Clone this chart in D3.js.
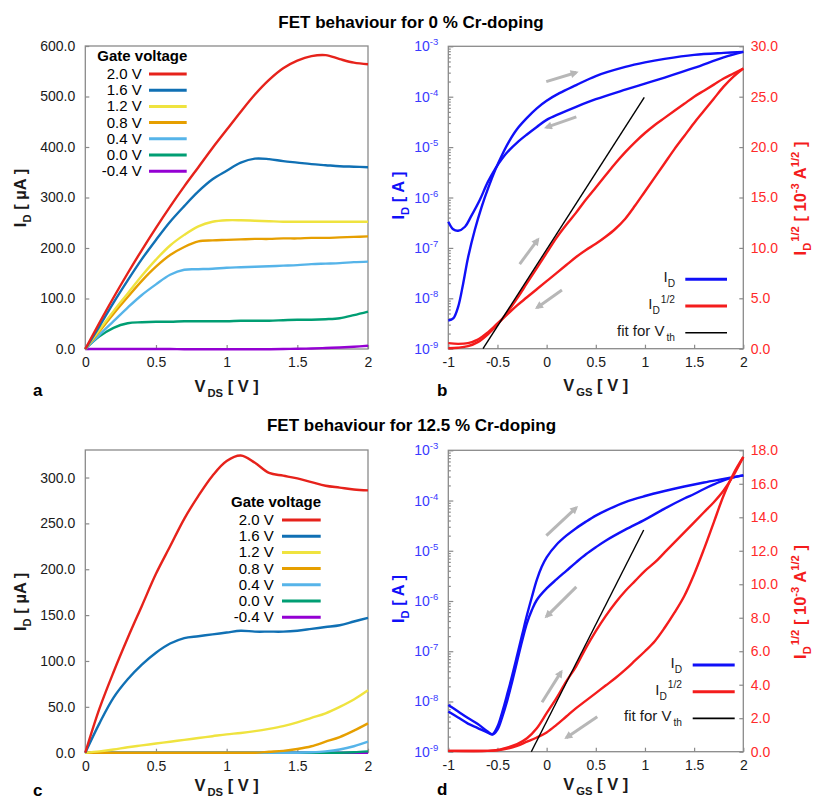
<!DOCTYPE html>
<html>
<head>
<meta charset="utf-8">
<script src="https://cdn.jsdelivr.net/npm/d3@7"></script>
<style>
  body { margin: 0; background: #fff; }
  svg { font-family: "Liberation Sans", Arial, Helvetica, sans-serif; }
</style>
</head>
<body>
<svg id="chart" width="814" height="800"></svg>
<script>
// ---------- data ----------
const vds = [0, 0.1, 0.2, 0.3, 0.4, 0.5, 0.6, 0.7, 0.8, 0.9, 1.0, 1.1, 1.2, 1.3, 1.4, 1.5, 1.6, 1.7, 1.8, 1.9, 2.0];
const gateVoltages = ["2.0 V", "1.6 V", "1.2 V", "0.8 V", "0.4 V", "0.0 V", "-0.4 V"];

// output curves, I_D in µA (rows follow gateVoltages)
const idUndoped = [
  [0, 52, 102, 150, 196, 240, 282, 322, 360, 398, 434, 470, 504, 533, 556, 571, 580, 582, 574, 567, 564],
  [0, 45, 92, 136, 178, 216, 252, 283, 312, 336, 353, 369, 377, 376, 372, 369, 366, 364, 362, 361, 360],
  [0, 38, 75, 110, 145, 177, 205, 226, 243, 252, 255, 255, 254, 253, 252, 252, 252, 252, 252, 252, 252],
  [0, 35, 70, 103, 135, 163, 186, 202, 213, 215, 216, 217, 218, 218, 219, 219, 220, 220, 221, 222, 223],
  [0, 28, 55, 82, 107, 128, 147, 157, 158, 159, 161, 162, 163, 164, 165, 166, 168, 169, 170, 172, 173],
  [0, 25, 42, 51, 53, 54, 54, 55, 55, 55, 55, 56, 56, 56, 57, 58, 58, 59, 61, 67, 74],
  [0, 0, 0, 0, 0, 0, 0, -0.5, -0.5, -0.5, -0.5, -0.5, -0.5, -0.5, 0, 0.5, 1, 2, 3, 4.5, 6.5]
];
const idDoped = [
  [0, 48, 88, 125, 160, 195, 225, 255, 280, 302, 318, 324, 316, 305, 302, 299, 295, 291, 289, 287, 286],
  [0, 32, 60, 80, 96, 109, 119, 125, 127, 129, 131, 133, 132, 132, 132, 133, 135, 137, 139, 143, 147],
  [0, 1.5, 3.5, 6, 8, 10, 12, 14, 16, 18, 20, 21.5, 23.5, 26, 29, 33, 38, 43, 50, 58, 68],
  [0, 0, 0, 0, 0, 0, 0, 0, 0, 0, 0, 0, 0, 1, 2, 4, 7, 12, 17, 24, 32],
  [0, 0, 0, 0, 0, 0, 0, 0, 0, 0, 0, 0, 0, 0, 0, 0, 0.5, 1.5, 3.5, 7, 12],
  [0, 0, 0, 0, 0, 0, 0, 0, 0, 0, 0, 0, 0, 0, 0, 0, 0, 0, 0, 0.5, 1.5],
  [0, 0, 0, 0, 0, 0, 0, 0, 0, 0, 0, 0, 0, 0, 0, 0, 0, 0, 0, 0, 0]
];

// transfer curves: [V_GS, log10(I_D / A)] and [V_GS, I_D^1/2 in 10^-3 A^1/2]
const logIdFwdUndoped = [[-1,-8.44],[-0.95,-8.40],[-0.9,-8.17],[-0.85,-7.72],[-0.8,-7.2],[-0.73,-6.64],[-0.66,-6.18],[-0.59,-5.79],[-0.52,-5.44],[-0.45,-5.14],[-0.38,-4.88],[-0.3,-4.64],[-0.2,-4.42],[-0.1,-4.23],[0,-4.08],[0.13,-3.93],[0.3,-3.77],[0.5,-3.59],[0.8,-3.41],[1.0,-3.32],[1.2,-3.25],[1.5,-3.17],[1.8,-3.13],[2.0,-3.11]];
const logIdRevUndoped = [[-1,-6.48],[-0.95,-6.63],[-0.9,-6.66],[-0.83,-6.58],[-0.77,-6.38],[-0.68,-6.05],[-0.6,-5.7],[-0.52,-5.42],[-0.45,-5.22],[-0.38,-5.06],[-0.3,-4.91],[-0.2,-4.75],[-0.1,-4.6],[0,-4.46],[0.13,-4.34],[0.3,-4.2],[0.5,-4.05],[0.8,-3.86],[1.0,-3.74],[1.2,-3.62],[1.5,-3.43],[1.8,-3.22],[2.0,-3.11]];
const sqrtIdFwdUndoped = [[-1,0.05],[-0.9,0.1],[-0.8,0.25],[-0.7,0.65],[-0.6,1.4],[-0.5,2.4],[-0.4,3.6],[-0.3,5.0],[-0.2,6.5],[-0.1,8.0],[0,9.5],[0.1,11.0],[0.2,12.3],[0.3,13.5],[0.4,14.8],[0.5,16.0],[0.6,17.2],[0.7,18.4],[0.8,19.5],[0.9,20.5],[1.0,21.4],[1.1,22.2],[1.2,22.9],[1.3,23.6],[1.4,24.3],[1.5,25.0],[1.6,25.6],[1.7,26.2],[1.8,26.8],[1.9,27.3],[2.0,27.8]];
const sqrtIdRevUndoped = [[-1,0.55],[-0.9,0.48],[-0.8,0.55],[-0.7,0.9],[-0.6,1.6],[-0.5,2.5],[-0.4,3.4],[-0.3,4.3],[-0.2,5.1],[-0.1,5.9],[0,6.7],[0.1,7.5],[0.2,8.3],[0.3,9.1],[0.4,9.8],[0.5,10.4],[0.6,11.1],[0.7,11.9],[0.8,12.9],[0.9,14.2],[1.0,15.6],[1.1,17.0],[1.2,18.4],[1.3,19.8],[1.4,21.1],[1.5,22.4],[1.6,23.6],[1.7,24.8],[1.8,26.0],[1.9,27.0],[2.0,27.8]];
const fitUndoped = [[-0.647, 0], [0.993, 24.94]];

const logIdFwdDoped = [[-1,-8.2],[-0.9,-8.32],[-0.8,-8.44],[-0.7,-8.53],[-0.6,-8.62],[-0.55,-8.65],[-0.5,-8.5],[-0.45,-8.2],[-0.4,-7.85],[-0.35,-7.48],[-0.3,-7.08],[-0.25,-6.68],[-0.2,-6.28],[-0.15,-5.92],[-0.1,-5.58],[-0.05,-5.32],[0,-5.13],[0.1,-4.88],[0.2,-4.7],[0.3,-4.55],[0.4,-4.42],[0.5,-4.3],[0.6,-4.2],[0.8,-4.03],[1.0,-3.91],[1.2,-3.81],[1.4,-3.72],[1.6,-3.64],[1.8,-3.57],[2.0,-3.5]];
const logIdRevDoped = [[-1,-8.07],[-0.9,-8.2],[-0.8,-8.33],[-0.7,-8.45],[-0.6,-8.6],[-0.55,-8.66],[-0.5,-8.56],[-0.45,-8.3],[-0.4,-7.98],[-0.35,-7.6],[-0.3,-7.2],[-0.25,-6.8],[-0.2,-6.44],[-0.15,-6.18],[-0.1,-5.98],[0,-5.75],[0.1,-5.57],[0.2,-5.4],[0.3,-5.23],[0.4,-5.07],[0.5,-4.93],[0.6,-4.8],[0.8,-4.58],[1.0,-4.38],[1.2,-4.16],[1.4,-3.96],[1.5,-3.87],[1.6,-3.77],[1.7,-3.68],[1.8,-3.6],[1.9,-3.54],[2.0,-3.5]];
const sqrtIdFwdDoped = [[-1,0.05],[-0.6,0.05],[-0.5,0.1],[-0.4,0.25],[-0.3,0.45],[-0.2,0.8],[-0.1,1.4],[0,2.3],[0.1,3.2],[0.2,4.2],[0.3,5.1],[0.4,6.2],[0.5,7.2],[0.6,8.1],[0.7,8.9],[0.8,9.6],[0.9,10.2],[1.0,10.8],[1.1,11.3],[1.2,11.9],[1.3,12.5],[1.4,13.1],[1.5,13.7],[1.6,14.3],[1.7,14.9],[1.8,15.6],[1.9,16.5],[2.0,17.6]];
const sqrtIdRevDoped = [[-1,0.05],[-0.6,0.05],[-0.5,0.08],[-0.4,0.18],[-0.3,0.35],[-0.2,0.6],[-0.1,0.85],[0,1.15],[0.1,1.6],[0.2,2.1],[0.3,2.6],[0.4,3.05],[0.5,3.5],[0.6,3.95],[0.7,4.4],[0.8,4.9],[0.9,5.45],[1.0,6.0],[1.1,6.6],[1.2,7.4],[1.3,8.3],[1.4,9.3],[1.5,10.6],[1.6,12.1],[1.7,13.7],[1.8,15.3],[1.9,16.6],[2.0,17.6]];
const fitDoped = [[-0.156, 0], [0.987, 13.24]];

// sweep-direction arrows: axis they refer to, start and end in data units
const arrowsUndoped = [
  {axis: "log", from: [-0.004, -3.70], to: [0.302, -3.52]},
  {axis: "log", from: [0.302, -4.40], to: [-0.004, -4.61]},
  {axis: "sqrt", from: [-0.274, 8.40], to: [-0.088, 10.85]},
  {axis: "sqrt", from: [0.156, 5.82], to: [-0.098, 4.07]}
];
const arrowsDoped = [
  {axis: "log", from: [-0.003, -4.70], to: [0.302, -4.14]},
  {axis: "log", from: [0.302, -5.72], to: [-0.003, -6.31]},
  {axis: "sqrt", from: [-0.047, 2.95], to: [0.149, 4.78]},
  {axis: "sqrt", from: [0.515, 2.09], to: [0.2, 0.84]}
];

// tick values
const vdsTicks = [0, 0.5, 1, 1.5, 2];
const vgsTicks = [-1, -0.5, 0, 0.5, 1, 1.5, 2];
const idTicksUndoped = [0, 100, 200, 300, 400, 500, 600];
const idTicksDoped = [0, 50, 100, 150, 200, 250, 300];
const logTicks = [-9, -8, -7, -6, -5, -4, -3];
const sqrtTicksUndoped = [0, 5, 10, 15, 20, 25, 30];
const sqrtTicksDoped = [0, 2, 4, 6, 8, 10, 12, 14, 16, 18];

// ---------- styles & layout ----------
const gateColors = ["#e6221b", "#1070b4", "#efe33f", "#e69f00", "#56b4e9", "#009e73", "#9400d3"];
const BLUE = "#1010f8", RED = "#f41c1c", GREY = "#b7b7b7", FRAME = "#8a8a8a";

const P = {
  a: {x0: 85.3, x1: 368, y0: 46, y1: 349},
  b: {x0: 448.3, x1: 743.3, y0: 46.3, y1: 348.7},
  c: {x0: 85.3, x1: 368, y0: 450, y1: 752.7},
  d: {x0: 448.3, x1: 743.3, y0: 450.3, y1: 751.7}
};

const svg = d3.select("#chart");

// text with sub/superscript parts: [string, "n"|"sub"|"sup", dx]
function rich(sel, parts, size) {
  let shift = 0;
  parts.forEach(([t, kind, dx]) => {
    const target = kind === "sub" ? size * 0.32 : kind === "sup" ? -size * 0.42 : 0;
    const ts = sel.append("tspan").attr("dy", target - shift).text(t);
    if (kind !== "n") ts.attr("font-size", size * 0.68);
    if (dx) ts.attr("dx", dx);
    shift = target;
  });
  return sel;
}

function frame(g, p) {
  g.append("rect")
    .attr("x", p.x0).attr("y", p.y0)
    .attr("width", p.x1 - p.x0).attr("height", p.y1 - p.y0)
    .attr("fill", "none").attr("stroke", FRAME).attr("stroke-width", 1.3);
}

function styleAxis(sel, color) {
  sel.select(".domain").remove();
  sel.attr("font-size", null).attr("font-family", null);
  sel.selectAll(".tick line").attr("stroke", FRAME).attr("stroke-width", 1.2);
  sel.selectAll(".tick text").attr("fill", color).attr("font-size", 14);
}

function axisTitle(g, x, y, parts, color, rotate) {
  const t = g.append("text")
    .attr("text-anchor", "middle").attr("font-weight", "bold")
    .attr("font-size", 16.5).attr("fill", color);
  if (rotate) t.attr("transform", `translate(${x},${y}) rotate(-90)`);
  else t.attr("x", x).attr("y", y);
  rich(t, parts, 16.5);
}

function letter(g, x, y, s) {
  g.append("text").attr("x", x).attr("y", y)
    .attr("font-weight", "bold").attr("font-size", 17).text(s);
}

// ---------- output characteristics (a, c) ----------
function drawOutput(p, rows, yMax, yTicks, leg, lab, bottom) {
  const g = svg.append("g");
  const x = d3.scaleLinear([0, 2], [p.x0, p.x1]);
  const y = d3.scaleLinear([0, yMax], [p.y1, p.y0]);
  frame(g, p);

  g.append("g").attr("transform", `translate(0,${p.y1})`)
    .call(d3.axisBottom(x).tickValues(vdsTicks).tickSize(-4).tickPadding(8).tickFormat(d => String(d)))
    .call(s => styleAxis(s, "#1a1a1a"));
  g.append("g").attr("transform", `translate(${p.x0},0)`)
    .call(d3.axisLeft(y).tickValues(yTicks).tickSize(-4).tickPadding(10).tickFormat(d3.format(".1f")))
    .call(s => styleAxis(s, "#1a1a1a"));

  const line = d3.line().x(d => x(d[0])).y(d => y(d[1])).curve(d3.curveCatmullRom.alpha(0.5));
  rows.map((r, i) => ({r, i})).reverse().forEach(({r, i}) => {
    g.append("path")
      .datum(vds.map((v, k) => [v, r[k]]))
      .attr("d", line).attr("fill", "none")
      .attr("stroke", gateColors[i]).attr("stroke-width", 2.4)
      .attr("stroke-linejoin", "round");
  });

  // legend
  g.append("text").attr("x", leg.x).attr("y", leg.y)
    .attr("font-weight", "bold").attr("font-size", 15).text("Gate voltage");
  gateVoltages.forEach((s, i) => {
    const yb = leg.y + 18.3 + 16.2 * i;
    g.append("text").attr("x", leg.textEnd).attr("y", yb)
      .attr("text-anchor", "end").attr("font-size", 15).text(s);
    g.append("line").attr("x1", leg.l0).attr("x2", leg.l1)
      .attr("y1", yb - 5).attr("y2", yb - 5)
      .attr("stroke", gateColors[i]).attr("stroke-width", 3);
  });

  axisTitle(g, (p.x0 + p.x1) / 2, p.y1 + bottom.title, [["V", "n"], ["DS", "sub", 2], [" [ V ]", "n"]], "#1a1a1a");
  axisTitle(g, 26, (p.y0 + p.y1) / 2 + 0.5, [["I", "n"], ["D", "sub"], [" [ µA ]", "n"]], "#1a1a1a", true);
  letter(g, 33, p.y1 + bottom.letter, lab);
}

// ---------- transfer characteristics (b, d) ----------
function drawTransfer(p, cfg) {
  const g = svg.append("g");
  const x = d3.scaleLinear([-1, 2], [p.x0, p.x1]);
  const yL = d3.scaleLog([1e-9, 1e-3], [p.y1, p.y0]);
  const yR = d3.scaleLinear([0, cfg.sqrtMax], [p.y1, p.y0]);
  frame(g, p);

  g.append("g").attr("transform", `translate(0,${p.y1})`)
    .call(d3.axisBottom(x).tickValues(vgsTicks).tickSize(-4).tickPadding(8).tickFormat(d => String(d)))
    .call(s => styleAxis(s, "#1a1a1a"));

  // log axis: major + minor ticks inside, labels 10^n
  const minors = [];
  logTicks.slice(0, -1).forEach(e => { for (let m = 2; m <= 9; m++) minors.push(m * Math.pow(10, e)); });
  g.append("g").attr("transform", `translate(${p.x0},0)`)
    .call(d3.axisLeft(yL).tickValues(minors).tickSize(-2.5).tickFormat(""))
    .call(s => styleAxis(s, BLUE));
  g.append("g").attr("transform", `translate(${p.x0},0)`)
    .call(d3.axisLeft(yL).tickValues(logTicks.map(e => Math.pow(10, e))).tickSize(-5).tickFormat(""))
    .call(s => styleAxis(s, BLUE));
  logTicks.forEach(e => {
    const t = g.append("text").attr("x", p.x0 - 10).attr("y", yL(Math.pow(10, e)) + 5)
      .attr("text-anchor", "end").attr("font-size", 14).attr("fill", "#3a3aff");
    rich(t, [["10", "n"], [String(e), "sup"]], 14);
  });

  g.append("g").attr("transform", `translate(${p.x1},0)`)
    .call(d3.axisRight(yR).tickValues(cfg.sqrtTicks).tickSize(-4).tickPadding(7.5).tickFormat(d3.format(".1f")))
    .call(s => styleAxis(s, "#ff2a2a"));

  const curve = d3.curveCatmullRom.alpha(0.5);
  const logLine = d3.line().x(d => x(d[0])).y(d => yL(Math.pow(10, d[1]))).curve(curve);
  const sqLine = d3.line().x(d => x(d[0])).y(d => yR(d[1])).curve(curve);

  [cfg.logFwd, cfg.logRev].forEach(s => g.append("path").datum(s).attr("d", logLine)
    .attr("fill", "none").attr("stroke", BLUE).attr("stroke-width", 2.4));
  [cfg.sqFwd, cfg.sqRev].forEach(s => g.append("path").datum(s).attr("d", sqLine)
    .attr("fill", "none").attr("stroke", RED).attr("stroke-width", 2.4));
  g.append("path").datum(cfg.fit).attr("d", d3.line().x(d => x(d[0])).y(d => yR(d[1])))
    .attr("fill", "none").attr("stroke", "#000").attr("stroke-width", 1.4);

  // sweep arrows
  cfg.arrows.forEach(a => {
    const yy = v => a.axis === "log" ? yL(Math.pow(10, v)) : yR(v);
    g.append("line")
      .attr("x1", x(a.from[0])).attr("y1", yy(a.from[1]))
      .attr("x2", x(a.to[0])).attr("y2", yy(a.to[1]))
      .attr("stroke", GREY).attr("stroke-width", 3)
      .attr("marker-end", "url(#arrowHead)");
  });

  // legend
  const lg = cfg.legend;
  const entries = [
    {parts: [["I", "n"], ["D", "sub"]], color: BLUE, w: 3},
    {parts: [["I", "n"], ["D", "sub"], ["1/2", "sup", 1]], color: RED, w: 3},
    {parts: [["fit for V", "n"], ["th", "sub", 2]], color: "#000", w: 1.6}
  ];
  entries.forEach((en, i) => {
    const ly = lg.y + 26.7 * i;
    const t = g.append("text").attr("x", lg.textEnd).attr("y", ly + 3)
      .attr("text-anchor", "end").attr("font-size", 15).attr("fill", "#1a1a1a");
    rich(t, en.parts, 15);
    g.append("line").attr("x1", lg.l0).attr("x2", lg.l1).attr("y1", ly).attr("y2", ly)
      .attr("stroke", en.color).attr("stroke-width", en.w);
  });

  axisTitle(g, (p.x0 + p.x1) / 2, p.y1 + cfg.bottom.title, [["V", "n"], ["GS", "sub", 2], [" [ V ]", "n"]], "#1a1a1a");
  axisTitle(g, 404, (p.y0 + p.y1) / 2 - 2, [["I", "n"], ["D", "sub"], [" [ A ]", "n"]], BLUE, true);
  axisTitle(g, 805.5, (p.y0 + p.y1) / 2 + 1,
    [["I", "n"], ["D", "sub"], ["1/2", "sup", 1], [" [ 10", "n"], ["-3", "sup"], [" A", "n"], ["1/2", "sup"], [" ]", "n"]],
    RED, true);
  letter(g, 437, p.y1 + cfg.bottom.letter, cfg.letter);
}

// arrow head marker
svg.append("defs").append("marker")
  .attr("id", "arrowHead").attr("viewBox", "0 0 10 10")
  .attr("refX", 7).attr("refY", 5)
  .attr("markerWidth", 9).attr("markerHeight", 8)
  .attr("markerUnits", "userSpaceOnUse").attr("orient", "auto")
  .append("path").attr("d", "M0,0 L10,5 L0,10 z").attr("fill", GREY);

// titles
svg.append("text").attr("x", 411).attr("y", 28.3).attr("text-anchor", "middle")
  .attr("font-weight", "bold").attr("font-size", 17).text("FET behaviour for 0 % Cr-doping");
svg.append("text").attr("x", 411.5).attr("y", 431).attr("text-anchor", "middle")
  .attr("font-weight", "bold").attr("font-size", 17).text("FET behaviour for 12.5 % Cr-doping");

const topRow = {title: 42.5, letter: 47};
const bottomRow = {title: 38.5, letter: 43.5};

drawOutput(P.a, idUndoped, 600, idTicksUndoped, {x: 97.3, y: 60.7, textEnd: 141.7, l0: 149, l1: 186.7}, "a", topRow);
drawOutput(P.c, idDoped, 330, idTicksDoped, {x: 231, y: 506.7, textEnd: 273.7, l0: 282, l1: 320.7}, "c", bottomRow);

drawTransfer(P.b, {
  logFwd: logIdFwdUndoped, logRev: logIdRevUndoped,
  sqFwd: sqrtIdFwdUndoped, sqRev: sqrtIdRevUndoped, fit: fitUndoped,
  arrows: arrowsUndoped, sqrtMax: 30, sqrtTicks: sqrtTicksUndoped,
  legend: {y: 279.3, textEnd: 675, l0: 685.3, l1: 727}, letter: "b", bottom: topRow
});
drawTransfer(P.d, {
  logFwd: logIdFwdDoped, logRev: logIdRevDoped,
  sqFwd: sqrtIdFwdDoped, sqRev: sqrtIdRevDoped, fit: fitDoped,
  arrows: arrowsDoped, sqrtMax: 18, sqrtTicks: sqrtTicksDoped,
  legend: {y: 665, textEnd: 682, l0: 692.7, l1: 734.7}, letter: "d", bottom: bottomRow
});
</script>
</body>
</html>
